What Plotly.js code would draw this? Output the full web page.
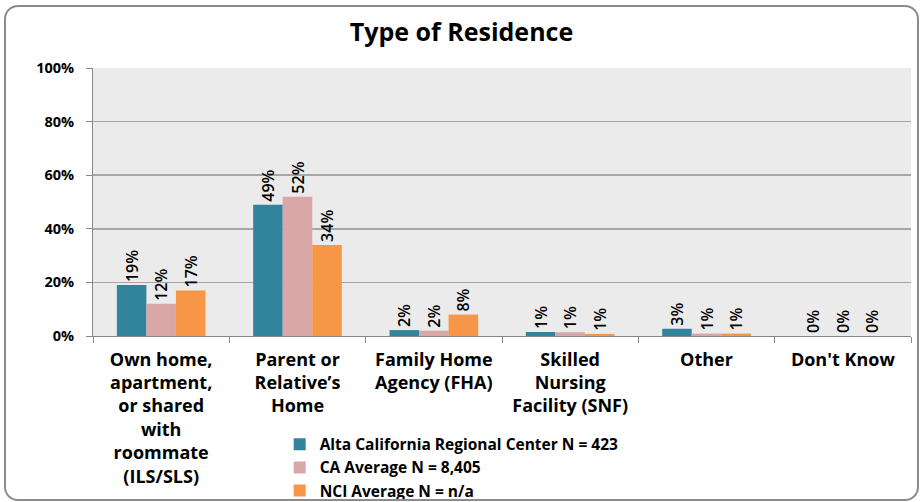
<!DOCTYPE html>
<html>
<head>
<meta charset="utf-8">
<script src="https://cdn.plot.ly/plotly-3.0.1.min.js"></script>
<style>
html,body{margin:0;padding:0;background:#fff;}
#wrap{position:relative;width:923px;height:502px;}
#frame{position:absolute;left:4px;top:5px;width:915px;height:496px;border:2px solid #8c8c8c;border-radius:14px;box-sizing:border-box;pointer-events:none;z-index:5;}
#chart{position:absolute;left:0;top:0;width:923px;height:502px;}
</style>
</head>
<body>
<div id="wrap"><div id="chart"></div><div id="frame"></div></div>
<script>
const categories = [
  "Own home,<br>apartment,<br>or shared<br>with<br>roommate<br>(ILS/SLS)",
  "Parent or<br>Relative’s<br>Home",
  "Family Home<br>Agency (FHA)",
  "Skilled<br>Nursing<br>Facility (SNF)",
  "Other",
  "Don't Know"
];
const seriesNames = [
  "Alta California Regional Center N = 423",
  "CA Average N = 8,405",
  "NCI Average N = n/a"
];
const altaValues = [19, 49, 2.2, 1.5, 2.7, 0];
const caValues = [12, 52, 2, 1.4, 0.9, 0];
const nciValues = [17, 34, 8, 0.8, 0.9, 0];
const altaLabels = ["19%", "49%", "2%", "1%", "3%", "0%"];
const caLabels = ["12%", "52%", "2%", "1%", "1%", "0%"];
const nciLabels = ["17%", "34%", "8%", "1%", "1%", "0%"];
const yTickVals = [0, 20, 40, 60, 80, 100];
const yTickText = ["0%", "20%", "40%", "60%", "80%", "100%"];
const colors = ["#31849b", "#d9a7a7", "#f79646"];

const FONT = "'Open Sans', 'DejaVu Sans', sans-serif";
const vals = [altaValues, caValues, nciValues];
const labs = [altaLabels, caLabels, nciLabels];
const traces = vals.map((v, i) => ({
  type: "bar",
  x: categories,
  y: v,
  name: seriesNames[i],
  text: labs[i],
  textposition: "outside",
  textangle: -90,
  constraintext: "none",
  cliponaxis: false,
  textfont: {family: FONT, size: 16, color: "#000", weight: 600},
  marker: {color: colors[i], line: {width: 0}},
  hoverinfo: "skip"
}));

const layout = {
  width: 923, height: 502,
  margin: {l: 93, r: 12, t: 68, b: 166, autoexpand: false},
  paper_bgcolor: "rgba(0,0,0,0)",
  plot_bgcolor: "#ebebeb",
  barmode: "group",
  bargap: 0.35,
  bargroupgap: 0,
  showlegend: true,
  title: {text: "<b>Type of Residence</b>", font: {family: FONT, size: 25, color: "#000"}, x: 0.5, xanchor: "center", y: 0.935, yanchor: "middle"},
  font: {family: FONT, color: "#000"},
  xaxis: {
    type: "category",
    tickfont: {family: FONT, size: 18, color: "#000", weight: "bold"},
    ticks: "outside", tickson: "boundaries", ticklen: 6, tickcolor: "#888",
    ticklabelstandoff: 7,
    showline: true, linecolor: "#888", linewidth: 1,
    showgrid: false, fixedrange: true, automargin: false
  },
  yaxis: {
    range: [0, 100],
    tickvals: yTickVals, ticktext: yTickText,
    tickfont: {family: FONT, size: 14.5, color: "#000", weight: "bold"},
    ticks: "outside", ticklen: 6, tickcolor: "#888",
    ticklabelstandoff: 9,
    showline: true, linecolor: "#888", linewidth: 1,
    showgrid: true, gridcolor: "#a6a6a6", gridwidth: 1.5,
    zeroline: false, fixedrange: true, automargin: false
  },
  legend: {
    xref: "container", yref: "container",
    x: 0.303, xanchor: "left", y: 0.148, yanchor: "top",
    orientation: "v",
    font: {family: FONT, size: 15.5, color: "#000", weight: "bold"},
    bgcolor: "rgba(0,0,0,0)", tracegroupgap: 0, itemwidth: 30
  }
};
Plotly.newPlot("chart", traces, layout, {displayModeBar: false, staticPlot: true});
</script>
</body>
</html>
